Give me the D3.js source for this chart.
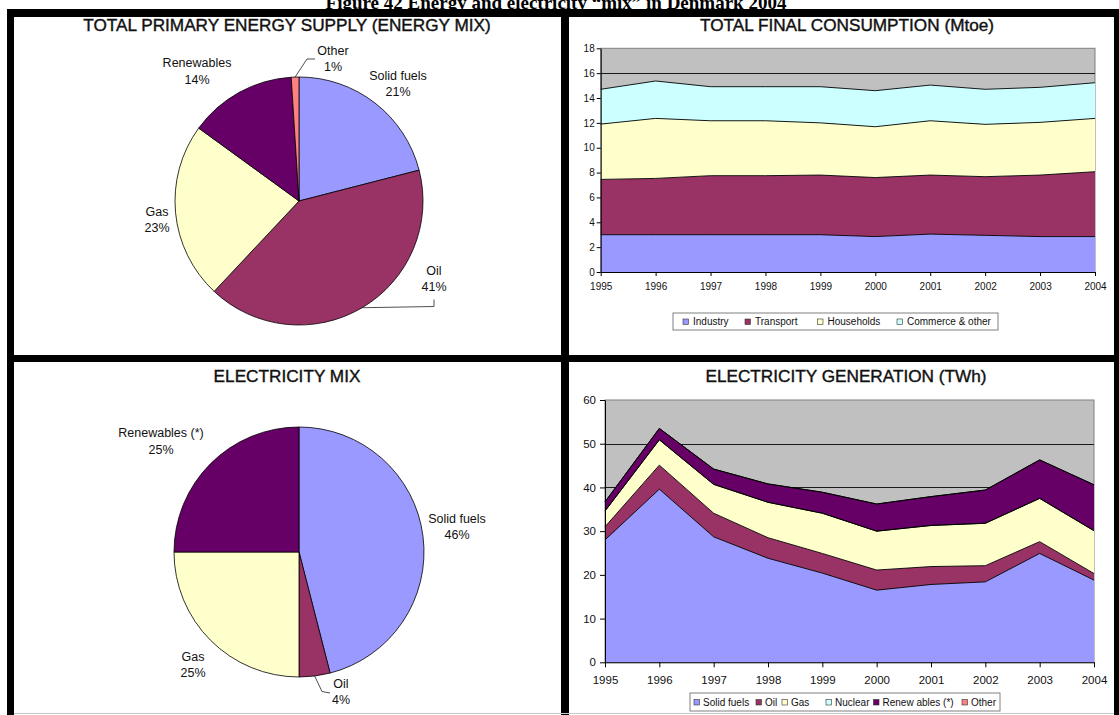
<!DOCTYPE html>
<html>
<head>
<meta charset="utf-8">
<script src="https://cdn.jsdelivr.net/npm/d3@7"></script>
<style>
  body { margin: 0; background: #fff; }
  text { font-family: "Liberation Sans", Arial, sans-serif; }
</style>
</head>
<body>
<script>
//years on both area charts
const years = [1995, 1996, 1997, 1998, 1999, 2000, 2001, 2002, 2003, 2004];

//total final consumption (Mtoe)
const consumptionKeys = ["Industry", "Transport", "Households", "Commerce & other"];
const industry = [3.0, 3.0, 3.0, 3.0, 3.0, 2.85, 3.05, 2.95, 2.85, 2.85];
const transport = [4.45, 4.53, 4.75, 4.75, 4.8, 4.75, 4.75, 4.72, 4.95, 5.22];
const households = [4.45, 4.83, 4.42, 4.42, 4.2, 4.09, 4.37, 4.21, 4.24, 4.29];
const commerce = [2.8, 3.01, 2.74, 2.74, 2.91, 2.9, 2.87, 2.82, 2.82, 2.87];
const consumptionTicks = [0, 2, 4, 6, 8, 10, 12, 14, 16, 18];

//electricity generation (TWh)
const generationKeys = ["Solid fuels", "Oil", "Gas", "Nuclear", "Renew ables (*)", "Other"];
const solidFuels = [28.0, 39.6, 28.7, 23.8, 20.4, 16.5, 17.8, 18.4, 24.9, 18.8];
const oilGen = [3.0, 5.5, 5.4, 4.7, 4.5, 4.6, 4.1, 3.7, 2.7, 1.5];
const gasGen = [3.6, 5.8, 6.6, 8.1, 9.2, 8.9, 9.4, 9.7, 9.9, 9.8];
const nuclearGen = [0, 0, 0, 0, 0, 0, 0, 0, 0, 0];
const renewablesGen = [2.1, 2.6, 3.5, 4.2, 4.8, 6.2, 6.6, 7.6, 8.8, 10.5];
const otherGen = [0, 0, 0, 0, 0, 0, 0, 0, 0, 0];
const generationTicks = [0, 10, 20, 30, 40, 50, 60];

//total primary energy supply shares (%)
const supplyLabels = ["Solid fuels", "Oil", "Gas", "Renewables", "Other"];
const supplyShares = [21, 41, 23, 14, 1];

//electricity mix shares (%)
const elecLabels = ["Solid fuels", "Oil", "Gas", "Renewables (*)"];
const elecShares = [46, 4, 25, 25];

//colors
const color = {
  "Solid fuels": "#9999ff", Industry: "#9999ff",
  Oil: "#993366", Transport: "#993366",
  Gas: "#ffffcc", Households: "#ffffcc",
  Nuclear: "#ccffff", "Commerce & other": "#ccffff",
  Renewables: "#660066", "Renewables (*)": "#660066", "Renew ables (*)": "#660066",
  Other: "#ff8080",
};

const width = 1119;
const height = 715;

const svg = d3.select("body").append("svg")
  .attr("width", width)
  .attr("height", height)
  .style("display", "block");

svg.append("rect").attr("width", width).attr("height", height).attr("fill", "#fff");

//figure title (cut by the frame, as in the source page)
svg.append("text")
  .attr("x", 556).attr("y", 9)
  .attr("text-anchor", "middle")
  .style("font-family", "Liberation Serif, Times New Roman, serif")
  .attr("font-weight", "bold")
  .attr("font-size", 19)
  .text("Figure 42 Energy and electricity \u201cmix\u201d in Denmark 2004");

//frame
const frame = svg.append("g").attr("fill", "#000");
frame.append("rect").attr("x", 7).attr("y", 9).attr("width", width - 7).attr("height", 8);
frame.append("rect").attr("x", 7).attr("y", 9).attr("width", 7).attr("height", height - 9);
frame.append("rect").attr("x", 561).attr("y", 9).attr("width", 8).attr("height", height - 9);
frame.append("rect").attr("x", 7).attr("y", 355).attr("width", width - 7).attr("height", 7);
frame.append("rect").attr("x", 1114).attr("y", 9).attr("width", 5).attr("height", height - 9);
svg.append("line")
  .attr("x1", 14).attr("x2", 1114).attr("y1", 713.5).attr("y2", 713.5)
  .attr("stroke", "#c8c8c8");

//panel titles
const titles = [
  { text: "TOTAL PRIMARY ENERGY SUPPLY (ENERGY MIX)", x: 287, y: 30.5 },
  { text: "TOTAL FINAL CONSUMPTION (Mtoe)", x: 847, y: 30.5 },
  { text: "ELECTRICITY MIX", x: 287, y: 381.5 },
  { text: "ELECTRICITY GENERATION (TWh)", x: 846, y: 381.5 },
];
svg.selectAll("text.title")
  .data(titles)
  .join("text")
  .attr("class", "title")
  .attr("x", (d) => d.x)
  .attr("y", (d) => d.y)
  .attr("text-anchor", "middle")
  .attr("font-size", 17.2)
  .attr("fill", "#111")
  .attr("stroke", "#111")
  .attr("stroke-width", 0.4)
  .text((d) => d.text);

//pie charts
drawPie({
  cx: 299, cy: 201, r: 124,
  labels: supplyLabels, shares: supplyShares,
  //label block centres relative to the pie centre
  labelPos: [[99, -117.5], [135, 77.5], [-142, 18.5], [-102, -130], [34, -142.5]],
  leaders: {
    1: (l) => [[l[0], l[1] + 28], [l[0], l[1] + 21]],
    4: (l) => [[l[0] - 26, l[1] + 0.5], [l[0] - 18, l[1] + 0.5]],
  },
});

drawPie({
  cx: 299, cy: 552, r: 125,
  labels: elecLabels, shares: elecShares,
  labelPos: [[158, -25.5], [42, 139.5], [-106, 112.5], [-138, -111]],
  leaders: {
    1: (l) => [[l[0] - 19, l[1]], [l[0] - 11, l[1] + 1.5]],
  },
});

//area charts
drawArea({
  left: 600.7, right: 1095, top: 48.3, bottom: 272,
  keys: consumptionKeys,
  series: [industry, transport, households, commerce],
  ticks: consumptionTicks,
  fontSize: 10, tickSize: 4, yPadding: 2, xPadding: 7,
  legend: {
    x: 673, y: 313, w: 325, h: 17, fontSize: 10,
    items: [683, 745, 817.5, 897], textGap: 10,
  },
});

drawArea({
  left: 605, right: 1094, top: 400, bottom: 662.3,
  keys: generationKeys,
  series: [solidFuels, oilGen, gasGen, nuclearGen, renewablesGen, otherGen],
  ticks: generationTicks,
  fontSize: 11.5, tickSize: 5, yPadding: 4, xPadding: 8.5,
  legend: {
    x: 690, y: 693, w: 310, h: 18, fontSize: 10,
    items: [694, 756, 782, 826, 873.5, 962], textGap: 9,
  },
});

function drawPie({ cx, cy, r, labels, shares, labelPos, leaders }) {
  const g = svg.append("g").attr("transform", `translate(${cx},${cy})`);

  const arcs = d3.pie().sort(null).value((d) => d)(shares);
  const arc = d3.arc().innerRadius(0).outerRadius(r);

  //slices
  g.selectAll("path.slice")
    .data(arcs)
    .join("path")
    .attr("class", "slice")
    .attr("d", arc)
    .attr("fill", (d, i) => color[labels[i]])
    .attr("stroke", "#000")
    .attr("stroke-width", 0.8);

  //leader lines from the slice rim to the moved labels
  Object.keys(leaders).forEach((k) => {
    const d = arcs[+k];
    const mid = (d.startAngle + d.endAngle) / 2;
    const edge = [r * Math.sin(mid), -r * Math.cos(mid)];
    const pts = [edge, ...leaders[k](labelPos[+k])];
    g.append("path")
      .attr("d", d3.line()(pts))
      .attr("fill", "none")
      .attr("stroke", "#222")
      .attr("stroke-width", 0.8);
  });

  //labels: name and percentage
  const label = g.selectAll("text.label")
    .data(arcs)
    .join("text")
    .attr("class", "label")
    .attr("text-anchor", "middle")
    .attr("font-size", 12.5)
    .attr("fill", "#111");

  label.append("tspan")
    .attr("x", (d, i) => labelPos[i][0])
    .attr("y", (d, i) => labelPos[i][1] - 8.25)
    .attr("dy", "0.35em")
    .text((d, i) => labels[i]);

  label.append("tspan")
    .attr("x", (d, i) => labelPos[i][0])
    .attr("y", (d, i) => labelPos[i][1] + 8.25)
    .attr("dy", "0.35em")
    .text((d) => d3.format(".0f")(d.data) + "%");
}

function drawArea({ left, right, top, bottom, keys, series, ticks, fontSize, tickSize, yPadding, xPadding, legend }) {
  const g = svg.append("g");

  //table for the stack
  const table = years.map((y, i) => {
    const row = { year: y };
    keys.forEach((k, j) => (row[k] = series[j][i]));
    return row;
  });
  const stacked = d3.stack().keys(keys)(table);

  const x = d3.scaleLinear().domain(d3.extent(years)).range([left, right]);
  const y = d3.scaleLinear().domain(d3.extent(ticks)).range([bottom, top]);

  //plot area
  g.append("rect")
    .attr("x", left).attr("y", top)
    .attr("width", right - left).attr("height", bottom - top)
    .attr("fill", "#c0c0c0")
    .attr("stroke", "#808080");

  //gridlines
  g.selectAll("line.grid")
    .data(ticks.slice(1, -1))
    .join("line")
    .attr("class", "grid")
    .attr("x1", left).attr("x2", right)
    .attr("y1", (d) => Math.round(y(d)) + 0.5)
    .attr("y2", (d) => Math.round(y(d)) + 0.5)
    .attr("stroke", "#1a1a1a");

  //areas
  const area = d3.area()
    .x((d) => x(d.data.year))
    .y0((d) => y(d[0]))
    .y1((d) => y(d[1]));

  g.selectAll("path.layer")
    .data(stacked)
    .join("path")
    .attr("class", "layer")
    .attr("d", area)
    .attr("fill", (d) => color[d.key]);

  //layer borders
  const line = d3.line()
    .x((d) => x(d.data.year))
    .y((d) => y(d[1]));

  g.selectAll("path.edge")
    .data(stacked)
    .join("path")
    .attr("class", "edge")
    .attr("d", line)
    .attr("fill", "none")
    .attr("stroke", "#000")
    .attr("stroke-width", 0.9);

  //y axis
  g.append("g")
    .attr("transform", `translate(${left},0)`)
    .call(d3.axisLeft(y).tickValues(ticks).tickSize(tickSize).tickSizeOuter(0).tickPadding(yPadding))
    .call((a) => {
      a.selectAll("path, line").attr("stroke", "#000");
      a.selectAll("text").attr("font-size", fontSize).attr("fill", "#111")
        .style("font-family", "Liberation Sans, Arial, sans-serif");
    });

  //x axis
  g.append("g")
    .attr("transform", `translate(0,${bottom})`)
    .call(d3.axisBottom(x).tickValues(years).tickFormat(d3.format("d")).tickSize(tickSize).tickSizeOuter(0).tickPadding(xPadding))
    .call((a) => {
      a.selectAll("path, line").attr("stroke", "#000");
      a.selectAll("text").attr("font-size", fontSize).attr("fill", "#111")
        .style("font-family", "Liberation Sans, Arial, sans-serif");
    });

  //legend
  const lg = svg.append("g");
  lg.append("rect")
    .attr("x", legend.x).attr("y", legend.y)
    .attr("width", legend.w).attr("height", legend.h)
    .attr("fill", "#fff")
    .attr("stroke", "#808080");

  const cy = legend.y + legend.h / 2;
  const item = lg.selectAll("g.item")
    .data(keys)
    .join("g")
    .attr("class", "item")
    .attr("transform", (d, i) => `translate(${legend.items[i]},${cy})`);

  item.append("rect")
    .attr("x", 0).attr("y", -2.5)
    .attr("width", 5.5).attr("height", 5.5)
    .attr("fill", (d) => color[d])
    .attr("stroke", "#333")
    .attr("stroke-width", 0.6);

  item.append("text")
    .attr("x", legend.textGap)
    .attr("y", 0)
    .attr("dy", "0.35em")
    .attr("font-size", legend.fontSize)
    .attr("fill", "#111")
    .text((d) => d);
}
</script>
</body>
</html>
